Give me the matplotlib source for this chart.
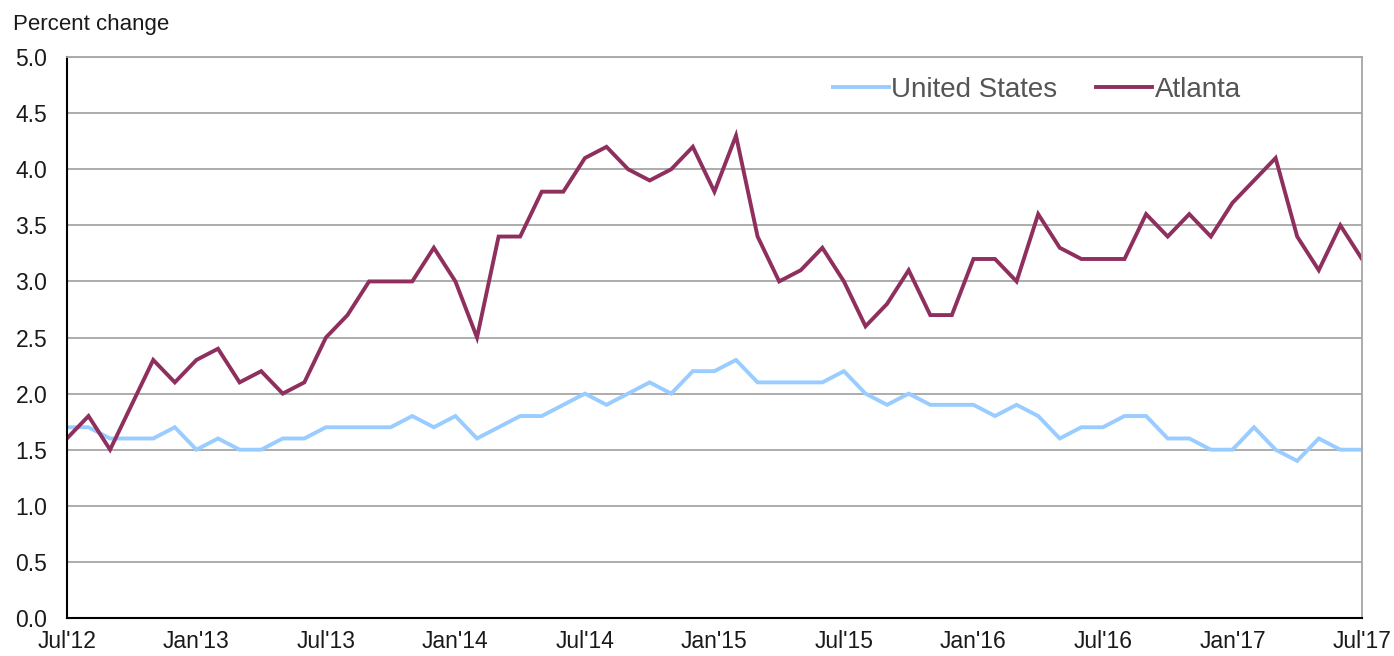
import matplotlib.pyplot as plt
import numpy as np

plt.rcParams['font.family'] = ['Liberation Sans', 'DejaVu Sans']

# monthly data, Jul'12 .. Jul'17
tick_labels = ["Jul'12", "Jan'13", "Jul'13", "Jan'14", "Jul'14", "Jan'15",
               "Jul'15", "Jan'16", "Jul'16", "Jan'17", "Jul'17"]

us = [1.7, 1.7, 1.6, 1.6, 1.6, 1.7, 1.5, 1.6, 1.5, 1.5, 1.6, 1.6,
      1.7, 1.7, 1.7, 1.7, 1.8, 1.7, 1.8, 1.6, 1.7, 1.8, 1.8, 1.9,
      2.0, 1.9, 2.0, 2.1, 2.0, 2.2, 2.2, 2.3, 2.1, 2.1, 2.1, 2.1,
      2.2, 2.0, 1.9, 2.0, 1.9, 1.9, 1.9, 1.8, 1.9, 1.8, 1.6, 1.7,
      1.7, 1.8, 1.8, 1.6, 1.6, 1.5, 1.5, 1.7, 1.5, 1.4, 1.6, 1.5,
      1.5]

atlanta = [1.6, 1.8, 1.5, 1.9, 2.3, 2.1, 2.3, 2.4, 2.1, 2.2, 2.0, 2.1,
           2.5, 2.7, 3.0, 3.0, 3.0, 3.3, 3.0, 2.5, 3.4, 3.4, 3.8, 3.8,
           4.1, 4.2, 4.0, 3.9, 4.0, 4.2, 3.8, 4.3, 3.4, 3.0, 3.1, 3.3,
           3.0, 2.6, 2.8, 3.1, 2.7, 2.7, 3.2, 3.2, 3.0, 3.6, 3.3, 3.2,
           3.2, 3.2, 3.6, 3.4, 3.6, 3.4, 3.7, 3.9, 4.1, 3.4, 3.1, 3.5,
           3.2]

months = np.arange(len(us))

fig = plt.figure(figsize=(13.94, 6.56), dpi=100, facecolor='white')
ax = fig.add_axes([0.048, 0.058, 0.929, 0.855])

ax.plot(months, us, color='#99CCFF', lw=2.8, label='United States', solid_joinstyle='miter')
ax.plot(months, atlanta, color='#8E2F5E', lw=2.8, label='Atlanta', solid_joinstyle='miter')

ax.set_xlim(0, 60)
ax.set_ylim(0, 5)
ax.set_yticks(np.arange(0, 5.01, 0.5))
ax.set_yticklabels(['%.1f' % v for v in np.arange(0, 5.01, 0.5)])
ax.set_xticks(np.arange(0, 61, 6))
ax.set_xticklabels(tick_labels)
ax.tick_params(length=0, labelsize=16.5, colors='#1a1a1a')
ax.tick_params(axis='y', pad=14)
ax.tick_params(axis='x', pad=9)

ax.grid(axis='y', color='#a6a6a6', lw=1.3)
ax.set_axisbelow(True)
ax.spines['left'].set_color('black')
ax.spines['left'].set_linewidth(1.5)
ax.spines['bottom'].set_color('black')
ax.spines['bottom'].set_linewidth(1.5)
ax.spines['right'].set_color('#a6a6a6')
ax.spines['right'].set_linewidth(1.3)
ax.spines['top'].set_color('#a6a6a6')
ax.spines['top'].set_linewidth(1.3)

fig.text(0.009, 0.963, 'Percent change', fontsize=16, color='#1a1a1a', va='center')

leg = ax.legend(loc='center', bbox_to_anchor=(0.749, 0.942), ncol=2, frameon=False,
                fontsize=20, handlelength=2.0, handletextpad=0.1, columnspacing=1.4)
for t in leg.get_texts():
    t.set_color('#555555')

fig.savefig('out.png', dpi=100, facecolor='white')
